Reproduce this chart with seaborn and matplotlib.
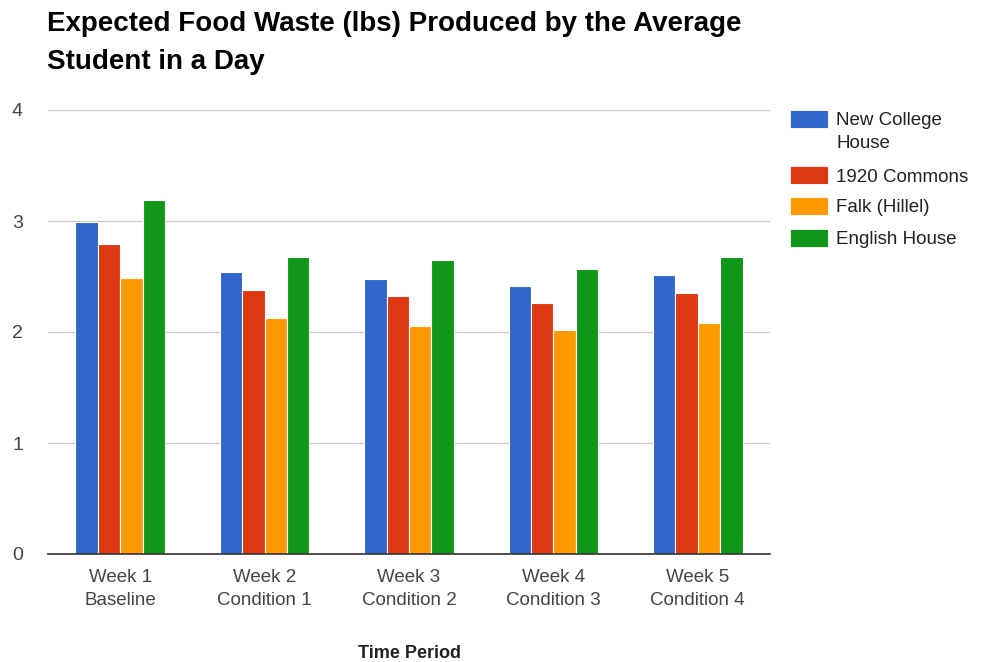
import pandas as pd
import numpy as np
import seaborn as sns
from matplotlib import pyplot as plt
from matplotlib.patches import Rectangle

sns.set_theme(style='white')
plt.rcParams['font.family'] = ['Liberation Sans', 'DejaVu Sans']

periods = ['Week 1\nBaseline', 'Week 2\nCondition 1', 'Week 3\nCondition 2',
           'Week 4\nCondition 3', 'Week 5\nCondition 4']
houses = ['New College\nHouse', '1920 Commons', 'Falk (Hillel)', 'English House']
new_college = [2.99, 2.54, 2.48, 2.41, 2.51]
commons_1920 = [2.79, 2.38, 2.32, 2.26, 2.35]
falk = [2.49, 2.13, 2.05, 2.02, 2.08]
english = [3.19, 2.68, 2.65, 2.57, 2.68]
colors = ['#3366cc', '#dc3912', '#ff9900', '#109618']

rows = []
for house, vals in zip(houses, [new_college, commons_1920, falk, english]):
    for p, v in zip(periods, vals):
        rows.append({'period': p, 'house': house, 'waste': v})
df = pd.DataFrame(rows)

W, H = 982, 662
fig = plt.figure(figsize=(W / 100, H / 100), dpi=100)
ax = fig.add_axes([48 / W, 1 - 554 / H, 722 / W, 444 / H])

sns.barplot(data=df, x='period', y='waste', hue='house', hue_order=houses,
            palette=colors, saturation=1, width=0.62, edgecolor='white', linewidth=0.8,
            errorbar=None, ax=ax, legend=False)

ax.set_ylim(0, 4)
ax.set_xlim(-0.5, 4.5)
ax.set_yticks([0, 1, 2, 3, 4])
ax.yaxis.grid(True, color='#cccccc', linewidth=1)
ax.set_axisbelow(True)
for s in ['top', 'right', 'left']:
    ax.spines[s].set_visible(False)
ax.spines['bottom'].set_color('#333333')
ax.spines['bottom'].set_linewidth(1.2)
ax.tick_params(axis='y', length=0, pad=18, labelsize=14, labelcolor='#444444')
ax.tick_params(axis='x', length=0, pad=11, labelsize=13.5, labelcolor='#444444')
for lab in ax.get_xticklabels():
    lab.set_linespacing(1.45)
ax.set_xlabel('Time Period', fontsize=13, fontweight='bold', color='#222222', labelpad=26)
ax.set_ylabel('')

fig.text(47 / W, 1 - 11 / H, 'Expected Food Waste (lbs) Produced by the Average\nStudent in a Day',
         fontsize=20, fontweight='bold', color='#000000', va='top', ha='left',
         linespacing=1.58)

# legend drawn in figure coordinates, first entry wraps onto two lines
patch_y = [119, 175, 206, 238]
text_y = [127, 175, 206, 238]
for c, label, py, ty in zip(colors, houses, patch_y, text_y):
    fig.patches.append(Rectangle((790 / W, 1 - (py + 9) / H), 38 / W, 18 / H,
                                 facecolor=c, edgecolor='white', linewidth=0.6,
                                 transform=fig.transFigure))
    fig.text(836 / W, 1 - ty / H, label, fontsize=13.5, color='#222222',
             va='center_baseline', ha='left', linespacing=1.5)

fig.savefig('out.png', dpi=100)
